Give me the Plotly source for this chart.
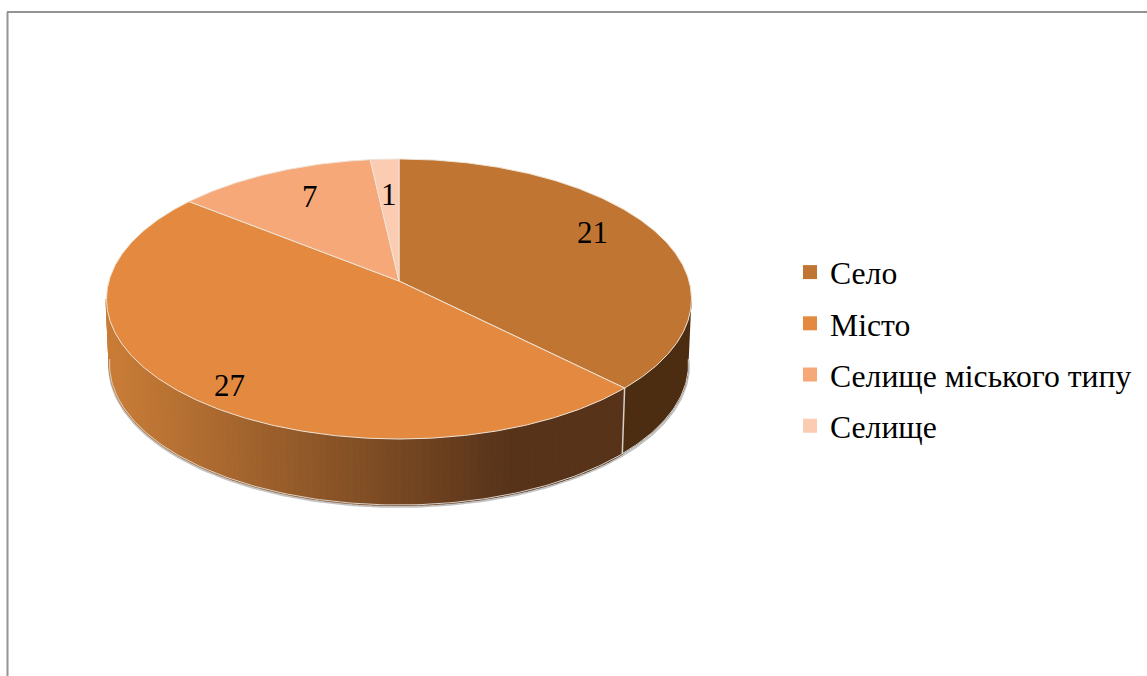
import numpy as np
import plotly.graph_objects as go

categories = ["Село", "Місто", "Селище міського типу", "Селище"]
values = [21, 27, 7, 1]
colors = ["#C07632", "#E48A40", "#F7A878", "#FBCBB2"]

W, H = 1147, 676
CX, CY, RX, RY = 399, 299, 292.5, 140      # top ellipse
BX, BY, BRX, BRY = 399, 364, 289.5, 141    # bottom ellipse
C = 18 / 140                               # perspective shift of the centre
LABEL_FRACTION = 0.8
LABEL_SHIFT = [(-13, -8), (-2, 16), (14, 4), (2, 13)]
RIM = "#EFE3D6"


def project(theta, f=1.0):
    """clockwise angle from the top (deg) -> normalised ellipse coordinates"""
    t = np.radians(theta)
    u, v = f * np.sin(t), f * np.cos(t)
    d = 1 + C * v
    return u * np.sqrt(1 - C ** 2) / d, (v + C) / d


def top(theta, f=1.0):
    X, Y = project(theta, f)
    return CX + RX * X, CY - RY * Y


def bottom(theta):
    X, Y = project(theta)
    return BX + BRX * X, BY - BRY * Y


def lerp_hex(a, b, t):
    ca = [int(a[i:i + 2], 16) for i in (1, 3, 5)]
    cb = [int(b[i:i + 2], 16) for i in (1, 3, 5)]
    return "#%02X%02X%02X" % tuple(round(x + (y - x) * t) for x, y in zip(ca, cb))


fracs = np.array(values) / sum(values) * 360
starts = np.concatenate([[0], np.cumsum(fracs)[:-1]])
ends = np.cumsum(fracs)
front_a = np.degrees(np.arccos(-C))
front_b = 360 - front_a

fig = go.Figure()


def poly(xs, ys, fill, line=None, width=1.0):
    fig.add_trace(go.Scatter(x=xs, y=ys, mode="lines", fill="toself", fillcolor=fill,
                             line=dict(color=line or fill, width=width),
                             hoverinfo="skip", showlegend=False))


# soft shadow and side wall
arc = np.linspace(front_a - 2, front_b + 2, 200)
sx, sy = bottom(arc)
fig.add_trace(go.Scatter(x=sx, y=sy + 1.5, mode="lines", line=dict(color="#C4C4C4", width=3),
                         hoverinfo="skip", showlegend=False))

for i in range(len(values)):
    a, b = max(starts[i], front_a), min(ends[i], front_b)
    if a >= b:
        continue
    if i == 0:
        arc_i = np.linspace(a, b, 40)
        xt, yt = top(arc_i)
        xb, yb = bottom(arc_i[::-1])
        poly(np.r_[xt, xb], np.r_[yt, yb], "#4C2D11")
        continue
    edges = np.linspace(a, b, max(2, int((b - a) / 1.2)) + 1)
    for e0, e1 in zip(edges[:-1], edges[1:]):
        x0, y0 = top(e0)
        x1, y1 = top(e1)
        x2, y2 = bottom(e1)
        x3, y3 = bottom(e0)
        t = np.clip(((x0 + x1) / 2 - 115) / (510 - 115), 0, 1)
        col = lerp_hex("#C87C37", "#57331A", t)
        poly([x0, x1, x2, x3], [y0, y1, y2, y3], col, col, 2.0)

# seam on the side wall
for b in ends:
    if front_a < b < front_b:
        xa, ya = top(b)
        xb, yb = bottom(b)
        fig.add_trace(go.Scatter(x=[xa, xb], y=[ya, yb], mode="lines", line=dict(color="#D9CFC6", width=1.5),
                                 hoverinfo="skip", showlegend=False))

# rim along the lower edge
lx, ly = bottom(arc)
fig.add_trace(go.Scatter(x=lx, y=ly, mode="lines", line=dict(color="#D8D2CC", width=1),
                         hoverinfo="skip", showlegend=False))

# top face
ax, ay = top(0, 0)
for i in range(len(values)):
    th = np.linspace(starts[i], ends[i], max(3, int(fracs[i] * 2)))
    x, y = top(th)
    poly(np.r_[ax, x, ax], np.r_[ay, y, ay], colors[i], RIM, 1.0)

# data labels
for i, v in enumerate(values):
    x, y = top((starts[i] + ends[i]) / 2, LABEL_FRACTION)
    fig.add_annotation(x=x, y=y, text=str(v), showarrow=False, xshift=LABEL_SHIFT[i][0],
                       yshift=-LABEL_SHIFT[i][1], font=dict(family="Liberation Serif", size=31, color="black"))

# legend
for i, name in enumerate(categories):
    fig.add_trace(go.Scatter(x=[None], y=[None], mode="markers", name=name, legendgroup=name,
                             marker=dict(symbol="square", size=14, color=colors[i])))

frame = "#949494"
fig.add_shape(type="line", x0=7.5, x1=7.5, y0=12, y1=H, line=dict(color=frame, width=2))
fig.add_shape(type="line", x0=7, x1=W, y0=12, y1=12, line=dict(color=frame, width=2))

fig.update_layout(
    width=W, height=H, margin=dict(l=0, r=0, t=0, b=0), autosize=False,
    paper_bgcolor="white", plot_bgcolor="white",
    xaxis=dict(range=[0, W], visible=False, fixedrange=True),
    yaxis=dict(range=[H, 0], visible=False, fixedrange=True),
    legend=dict(x=790 / W, y=1 - 245 / H, xanchor="left", yanchor="top", tracegroupgap=7,
                itemwidth=30, bgcolor="rgba(0,0,0,0)",
                font=dict(family="Liberation Serif", size=31.7, color="black")),
)
fig.write_html("out.html", post_script="document.body.style.margin='0';document.body.style.overflow='hidden';",
               config={"displayModeBar": False})
